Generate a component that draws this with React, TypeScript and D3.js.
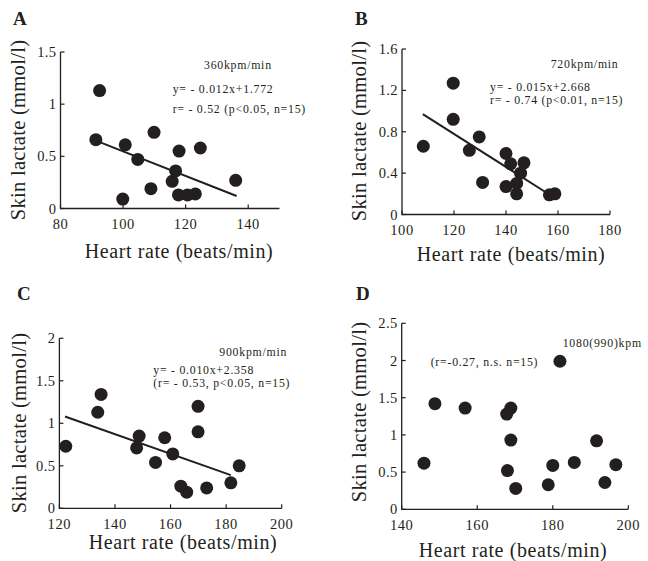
import React from 'react';
import * as d3 from 'd3';

// heart rate (beats/min) and skin lactate (mmol/l), one pair of arrays per panel
const hrA = [92.5, 91.3, 100.7, 99.9, 104.7, 109.9, 108.9, 115.7, 116.8, 117.9, 117.7, 120.6, 123.1, 124.7, 136.0];
const lacA = [1.13, 0.66, 0.61, 0.09, 0.47, 0.73, 0.19, 0.26, 0.36, 0.55, 0.13, 0.13, 0.14, 0.58, 0.27];
const fitA = [[91.3, 0.65], [136.3, 0.12]];

const hrB = [108.2, 119.7, 119.7, 125.9, 129.7, 131.0, 140.0, 140.0, 141.8, 146.9, 145.6, 144.1, 144.1, 156.7, 158.8];
const lacB = [0.66, 1.27, 0.92, 0.62, 0.75, 0.31, 0.59, 0.27, 0.49, 0.5, 0.4, 0.3, 0.2, 0.19, 0.2];
const fitB = [[108.0, 0.97], [155.6, 0.21]];

const hrC = [122.3, 133.8, 135.0, 147.8, 148.7, 154.6, 157.9, 160.8, 163.7, 165.8, 169.9, 169.9, 173.0, 181.7, 184.7];
const lacC = [0.73, 1.13, 1.34, 0.71, 0.85, 0.54, 0.83, 0.64, 0.26, 0.19, 1.2, 0.9, 0.24, 0.3, 0.5];
const fitC = [[122.0, 1.08], [181.7, 0.39]];

const hrD = [145.9, 148.8, 156.8, 167.8, 168.9, 168.9, 168.0, 170.2, 181.9, 178.8, 180.0, 185.7, 191.6, 193.8, 196.7];
const lacD = [0.62, 1.42, 1.36, 1.28, 1.36, 0.93, 0.52, 0.28, 1.99, 0.33, 0.59, 0.63, 0.92, 0.36, 0.6];

const xTicksA = [80, 100, 120, 140];
const yTicksA = [0, 0.5, 1, 1.5];
const xTicksB = [100, 120, 140, 160, 180];
const yTicksB = [0, 0.4, 0.8, 1.2, 1.6];
const xTicksC = [120, 140, 160, 180, 200];
const yTicksC = [0, 0.5, 1, 1.5, 2];
const xTicksD = [140, 160, 180, 200];
const yTicksD = [0, 0.5, 1, 1.5, 2, 2.5];

const notesA = ['360kpm/min', 'y= - 0.012x+1.772', 'r= - 0.52 (p<0.05, n=15)'];
const notesB = ['720kpm/min', 'y= - 0.015x+2.668', 'r= - 0.74 (p<0.01, n=15)'];
const notesC = ['900kpm/min', 'y= - 0.010x+2.358', '(r= - 0.53, p<0.05, n=15)'];
const notesD = ['1080(990)kpm', '(r=-0.27, n.s. n=15)'];

const FONT = '"Liberation Serif", "Times New Roman", serif';

type PanelProps = {
  letter: string;
  letterPos: [number, number];
  hr: number[];
  lac: number[];
  fit?: number[][];
  xDomain: [number, number];
  yDomain: [number, number];
  xRange: [number, number];
  yRange: [number, number];
  xTicks: number[];
  yTicks: number[];
  notes: string[];
  notePos: [number, number][];
  xLabelPos: [number, number];
  yLabelPos: [number, number];
  tickBase: number;
};

const Panel: React.FC<PanelProps> = (p) => {
  const x = d3.scaleLinear().domain(p.xDomain).range(p.xRange);
  const y = d3.scaleLinear().domain(p.yDomain).range(p.yRange);
  const x0 = p.xRange[0];
  const y0 = p.yRange[0];
  const line = d3.line<number[]>().x(d => x(d[0])).y(d => y(d[1]));

  return (
    <g fontFamily={FONT} fill="#231f20">
      <text x={p.letterPos[0]} y={p.letterPos[1]} fontSize={19} fontWeight="bold">{p.letter}</text>
      <path d={`M${x0},${p.yRange[1]}V${y0}H${p.xRange[1]}`} fill="none" stroke="#231f20" strokeWidth={1.3} />
      {p.xTicks.map(t => (
        <g key={'x' + t}>
          <line x1={x(t)} x2={x(t)} y1={y0} y2={y0 - 4} stroke="#231f20" strokeWidth={1.2} />
          <text x={x(t)} y={p.tickBase} fontSize={14.5} letterSpacing={0.6} textAnchor="middle">{t}</text>
        </g>
      ))}
      {p.yTicks.map(t => (
        <g key={'y' + t}>
          <line x1={x0} x2={x0 + 4} y1={y(t)} y2={y(t)} stroke="#231f20" strokeWidth={1.2} />
          <text x={x0 - 4} y={y(t)} dy="0.35em" fontSize={14.5} letterSpacing={0.4} textAnchor="end">{String(t)}</text>
        </g>
      ))}
      {p.fit && <path d={line(p.fit) || ''} fill="none" stroke="#231f20" strokeWidth={2} />}
      {p.hr.map((h, i) => (
        <circle key={i} cx={x(h)} cy={y(p.lac[i])} r={6.5} fill="#231f20" />
      ))}
      {p.notes.map((n, i) => (
        <text key={n} x={p.notePos[i][0]} y={p.notePos[i][1]} dy="0.35em" fontSize={11.8} letterSpacing={0.75}>{n}</text>
      ))}
      <text x={p.xLabelPos[0]} y={p.xLabelPos[1]} fontSize={20} letterSpacing={0.6} textAnchor="middle">Heart rate (beats/min)</text>
      <text transform={`translate(${p.yLabelPos[0]},${p.yLabelPos[1]}) rotate(-90)`} fontSize={20.5} letterSpacing={0.3} textAnchor="middle">Skin lactate (mmol/l)</text>
    </g>
  );
};

export default function App() {
  return (
    <svg width={648} height={561} style={{ position: 'absolute', left: 0, top: 0, background: '#fff' }}>
      <Panel letter="A" letterPos={[13, 25]} hr={hrA} lac={lacA} fit={fitA}
        xDomain={[80, 150]} yDomain={[0, 1.5]} xRange={[60.5, 279.5]} yRange={[208.5, 52]}
        xTicks={xTicksA} yTicks={yTicksA} notes={notesA}
        notePos={[[204, 65], [172.7, 89.3], [172.7, 109.3]]}
        xLabelPos={[179, 258]} yLabelPos={[25, 130]} tickBase={228.5} />
      <Panel letter="B" letterPos={[355, 25]} hr={hrB} lac={lacB} fit={fitB}
        xDomain={[100, 180]} yDomain={[0, 1.6]} xRange={[402, 610]} yRange={[214.5, 49]}
        xTicks={xTicksB} yTicks={yTicksB} notes={notesB}
        notePos={[[550.7, 64.3], [490, 87.3], [490, 100]]}
        xLabelPos={[511, 261]} yLabelPos={[366, 131]} tickBase={235} />
      <Panel letter="C" letterPos={[17, 300]} hr={hrC} lac={lacC} fit={fitC}
        xDomain={[120, 200]} yDomain={[0, 2]} xRange={[59.4, 281.7]} yRange={[508.3, 338.3]}
        xTicks={xTicksC} yTicks={yTicksC} notes={notesC}
        notePos={[[219.3, 352], [153.3, 370], [153.3, 382.5]]}
        xLabelPos={[183, 549]} yLabelPos={[26, 423]} tickBase={528.5} />
      <Panel letter="D" letterPos={[356, 300]} hr={hrD} lac={lacD}
        xDomain={[140, 200]} yDomain={[0, 2.5]} xRange={[401.7, 628.3]} yRange={[509.3, 323.3]}
        xTicks={xTicksD} yTicks={yTicksD} notes={notesD}
        notePos={[[562.7, 343.3], [430.7, 361.7]]}
        xLabelPos={[513, 557]} yLabelPos={[366, 412]} tickBase={530} />
    </svg>
  );
}
